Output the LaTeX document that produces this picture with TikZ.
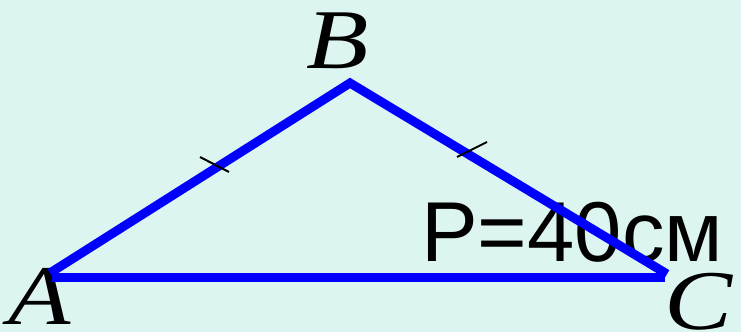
\documentclass[tikz,border=0pt]{standalone}
\usepackage{fontspec}
\setmainfont{Liberation Serif}
\newfontfamily\vertfont{Liberation Serif}[FakeStretch=1.2]
\newfontfamily\perfont{Liberation Sans}
\usetikzlibrary{positioning}
\definecolor{bgmint}{RGB}{221,245,240}
\definecolor{sideblue}{RGB}{0,0,255}

\begin{document}
\begin{tikzpicture}[
        x=1pt, y=-1pt,
        side/.style={draw=sideblue, line width=9pt},
        tick/.style={draw=black, line width=2pt},
        vlabel/.style={inner sep=0pt, anchor=base, font=\fontsize{85}{85}\vertfont\itshape},
        perim/.style={inner sep=0pt, anchor=base west, font=\fontsize{85}{85}\perfont}
    ]
        % Background
        \fill[bgmint] (0,0) rectangle (741,332);
        \useasboundingbox (0,0) rectangle (741,332);

        % Vertices
        \coordinate (A) at (50,273);
        \coordinate (B) at (350,83);
        \coordinate (C) at (667,274);
        \coordinate (Aend) at (52,277);
        \coordinate (Cend) at (665,277);

        % Labels
        \node [vlabel] (labB) at (338,68) {B};
        \node [vlabel] (labA) at (40,324) {A};
        \node [vlabel] (labC) at (699,329) {C};
        \node [perim] (per) at (421,261) {P=40см};

        % Sides
        \path [side] (Aend) -- (Cend);
        \path [side, line join=miter] (A) -- (B) -- (C);

        % Ticks
        \coordinate (t1a) at (200,157);
        \coordinate (t1b) at (229,172);
        \coordinate (t2a) at (457,157);
        \coordinate (t2b) at (487,142);
        \path [tick] (t1a) -- (t1b);
        \path [tick] (t2a) -- (t2b);
    \end{tikzpicture}
\end{document}
